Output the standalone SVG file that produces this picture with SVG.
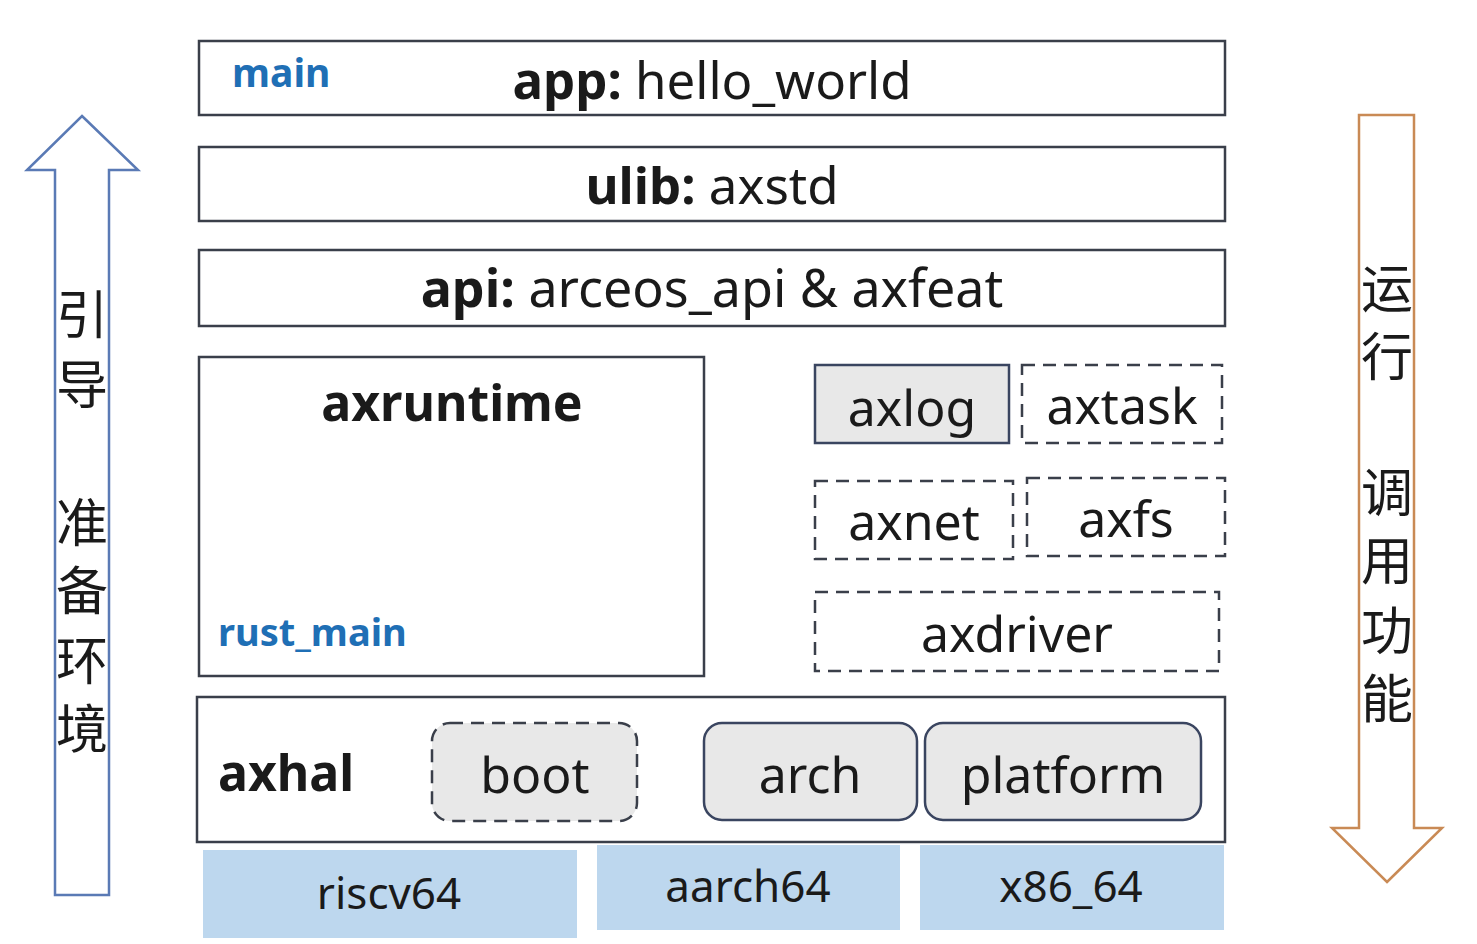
<svg xmlns="http://www.w3.org/2000/svg" width="1477" height="944" viewBox="0 0 1477 944">
<style>
.t{font-family:"Noto Sans","Open Sans","DejaVu Sans",sans-serif;fill:#1a1a1a;text-anchor:middle}
.b{font-weight:bold}
.blue{fill:#1f6fb5;font-weight:bold;text-anchor:start}
.box{fill:#fff;stroke:#3a3f4a;stroke-width:2.5}
.dash{fill:#fff;stroke:#3a3f4a;stroke-width:2.5;stroke-dasharray:13 8}
.gray{fill:#e8e8e8;stroke:#3a4560;stroke-width:2.5}
.arch{fill:#bdd7ee}
.cjk{font-family:"Noto Sans CJK SC","Noto Sans",sans-serif;font-size:52px;fill:#1a1a1a;text-anchor:middle}
</style>
<rect width="1477" height="944" fill="#fff"/>
<g id="connectors">
<path id="arrow-up" d="M82,116 L138,170 L109,170 L109,895 L55,895 L55,170 L27,170 Z" fill="#fff" stroke="#5a7ab5" stroke-width="2.5"/>
<path id="arrow-down" d="M1387,882 L1442,828 L1414,828 L1414,115 L1359,115 L1359,828 L1332,828 Z" fill="#fff" stroke="#c98a55" stroke-width="2.5"/>
</g>
<g id="label-left">
<text class="cjk" x="82" y="334">引</text>
<text class="cjk" x="82" y="404">导</text>
<text class="cjk" x="82" y="542">准</text>
<text class="cjk" x="82" y="610">备</text>
<text class="cjk" x="82" y="680">环</text>
<text class="cjk" x="82" y="748">境</text>
</g>
<g id="label-right">
<text class="cjk" x="1387" y="308">运</text>
<text class="cjk" x="1387" y="376">行</text>
<text class="cjk" x="1387" y="512">调</text>
<text class="cjk" x="1387" y="580">用</text>
<text class="cjk" x="1387" y="650">功</text>
<text class="cjk" x="1387" y="718">能</text>
</g>
<g id="app">
<rect class="box" x="199" y="41" width="1026" height="74"/>
<text class="t blue" x="232" y="87" font-size="39">main</text>
<text class="t" x="712" y="99" font-size="51"><tspan class="b">app:</tspan> hello_world</text>
</g>
<g id="ulib">
<rect class="box" x="199" y="147" width="1026" height="74"/>
<text class="t" x="712" y="204" font-size="51"><tspan class="b">ulib:</tspan> axstd</text>
</g>
<g id="api">
<rect class="box" x="199" y="250" width="1026" height="76"/>
<text class="t" x="712" y="307" font-size="52"><tspan class="b">api:</tspan> arceos_api &amp; axfeat</text>
</g>
<g id="axruntime">
<rect class="box" x="199" y="357" width="505" height="319"/>
<text class="t b" x="452" y="421" font-size="50">axruntime</text>
<text class="t blue" x="218" y="646" font-size="38">rust_main</text>
</g>
<g id="axlog">
<rect class="gray" x="815" y="365" width="194" height="78"/>
<text class="t" x="912" y="426" font-size="50">axlog</text>
</g>
<g id="axtask">
<rect class="dash" x="1022" y="365" width="200" height="78"/>
<text class="t" x="1122" y="424" font-size="50">axtask</text>
</g>
<g id="axnet">
<rect class="dash" x="815" y="481" width="198" height="78"/>
<text class="t" x="914" y="540" font-size="50">axnet</text>
</g>
<g id="axfs">
<rect class="dash" x="1027" y="478" width="198" height="78"/>
<text class="t" x="1126" y="537" font-size="50">axfs</text>
</g>
<g id="axdriver">
<rect class="dash" x="815" y="592" width="404" height="79"/>
<text class="t" x="1017" y="652" font-size="50">axdriver</text>
</g>
<g id="axhal">
<rect class="box" x="197" y="697" width="1028" height="145"/>
<text class="t b" x="218" y="791" font-size="50" style="text-anchor:start">axhal</text>
<rect class="dash" x="432" y="723" width="205" height="98" rx="18" style="fill:#e8e8e8"/>
<text class="t" x="535" y="793" font-size="50">boot</text>
<rect class="gray" x="704" y="723" width="213" height="97" rx="18"/>
<text class="t" x="810" y="793" font-size="50">arch</text>
<rect class="gray" x="925" y="723" width="276" height="97" rx="18"/>
<text class="t" x="1063" y="793" font-size="50">platform</text>
</g>
<g id="riscv64">
<rect class="arch" x="203" y="850" width="374" height="88"/>
<text class="t" x="389" y="909" font-size="44">riscv64</text>
</g>
<g id="aarch64">
<rect class="arch" x="597" y="845" width="303" height="85"/>
<text class="t" x="748" y="902" font-size="44">aarch64</text>
</g>
<g id="x86_64">
<rect class="arch" x="920" y="845" width="304" height="85"/>
<text class="t" x="1071" y="902" font-size="44">x86_64</text>
</g>
</svg>
